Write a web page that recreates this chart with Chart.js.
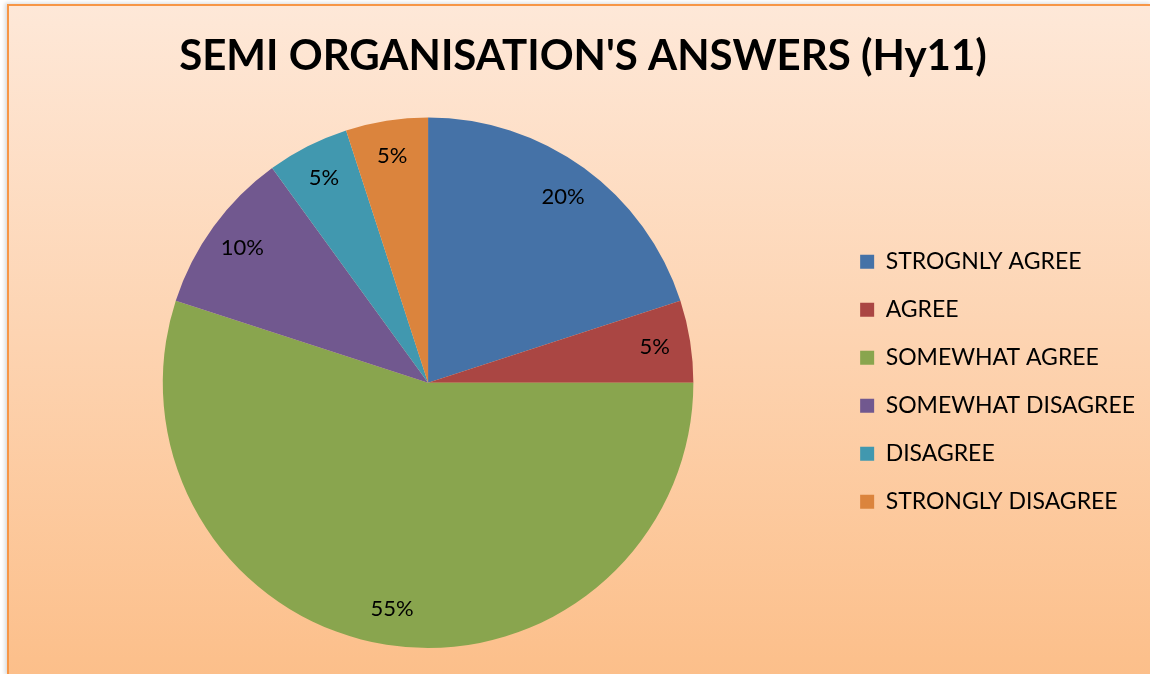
<!DOCTYPE html>
<html>
<head>
<meta charset="utf-8">
<script src="https://cdn.jsdelivr.net/npm/chart.js@4.4.0/dist/chart.umd.min.js"></script>
<style>
  html, body { margin: 0; padding: 0; background: #fff; }
  #wrap {
    position: absolute; left: 7px; top: 4px; width: 1143px; height: 670px;
    border-top: 2px solid #f79646; border-left: 2px solid #f79646;
    background: linear-gradient(#fee8d8, #fcbf8a);
    box-shadow: -2px -1px 4px rgba(0,0,0,0.15);
  }
  #chart { display: block; }
</style>
</head>
<body>
<div id="wrap"><canvas id="chart" width="1141" height="668"></canvas></div>
<script>
const categories = ['STROGNLY AGREE', 'AGREE', 'SOMEWHAT AGREE', 'SOMEWHAT DISAGREE', 'DISAGREE', 'STRONGLY DISAGREE'];
const shares = [20, 5, 55, 10, 5, 5];
const colors = ['#4572a7', '#aa4643', '#89a54e', '#71588f', '#4198af', '#db843d'];

// percent labels near the rim of each slice
const sliceLabels = {
    id: 'sliceLabels',
    afterDatasetsDraw(chart) {
        const ctx = chart.ctx;
        ctx.save();
        ctx.font = '22px Lato';
        ctx.fillStyle = '#000';
        ctx.textAlign = 'center';
        ctx.textBaseline = 'middle';
        chart.getDatasetMeta(0).data.forEach((arc, i) => {
            const a = (arc.startAngle + arc.endAngle) / 2;
            const r = arc.outerRadius * 0.865;
            ctx.fillText(shares[i] + '%', arc.x + Math.cos(a) * r, arc.y + Math.sin(a) * r);
        });
        ctx.restore();
    }
};

const chart = new Chart(document.querySelector('#chart'), {
    type: 'pie',
    data: {
        labels: categories,
        datasets: [{
            data: shares,
            backgroundColor: colors,
            borderWidth: 0
        }]
    },
    options: {
        responsive: false,
        animation: false,
        layout: {
            padding: { top: 0, bottom: 26, left: 12, right: 5 }
        },
        plugins: {
            title: {
                display: true,
                text: "SEMI ORGANISATION'S ANSWERS (Hy11)",
                color: '#000',
                font: { family: 'Lato', size: 42, weight: 'bold' },
                padding: { top: 25, bottom: 36 }
            },
            legend: {
                position: 'right',
                title: {
                    display: true,
                    text: ' ',
                    padding: { top: 95, bottom: 0 }
                },
                labels: {
                    color: '#000',
                    font: { family: 'Lato', size: 23 },
                    boxWidth: 14,
                    boxHeight: 14,
                    padding: 25
                }
            },
            tooltip: { enabled: false }
        }
    },
    plugins: [sliceLabels]
});
</script>
</body>
</html>
